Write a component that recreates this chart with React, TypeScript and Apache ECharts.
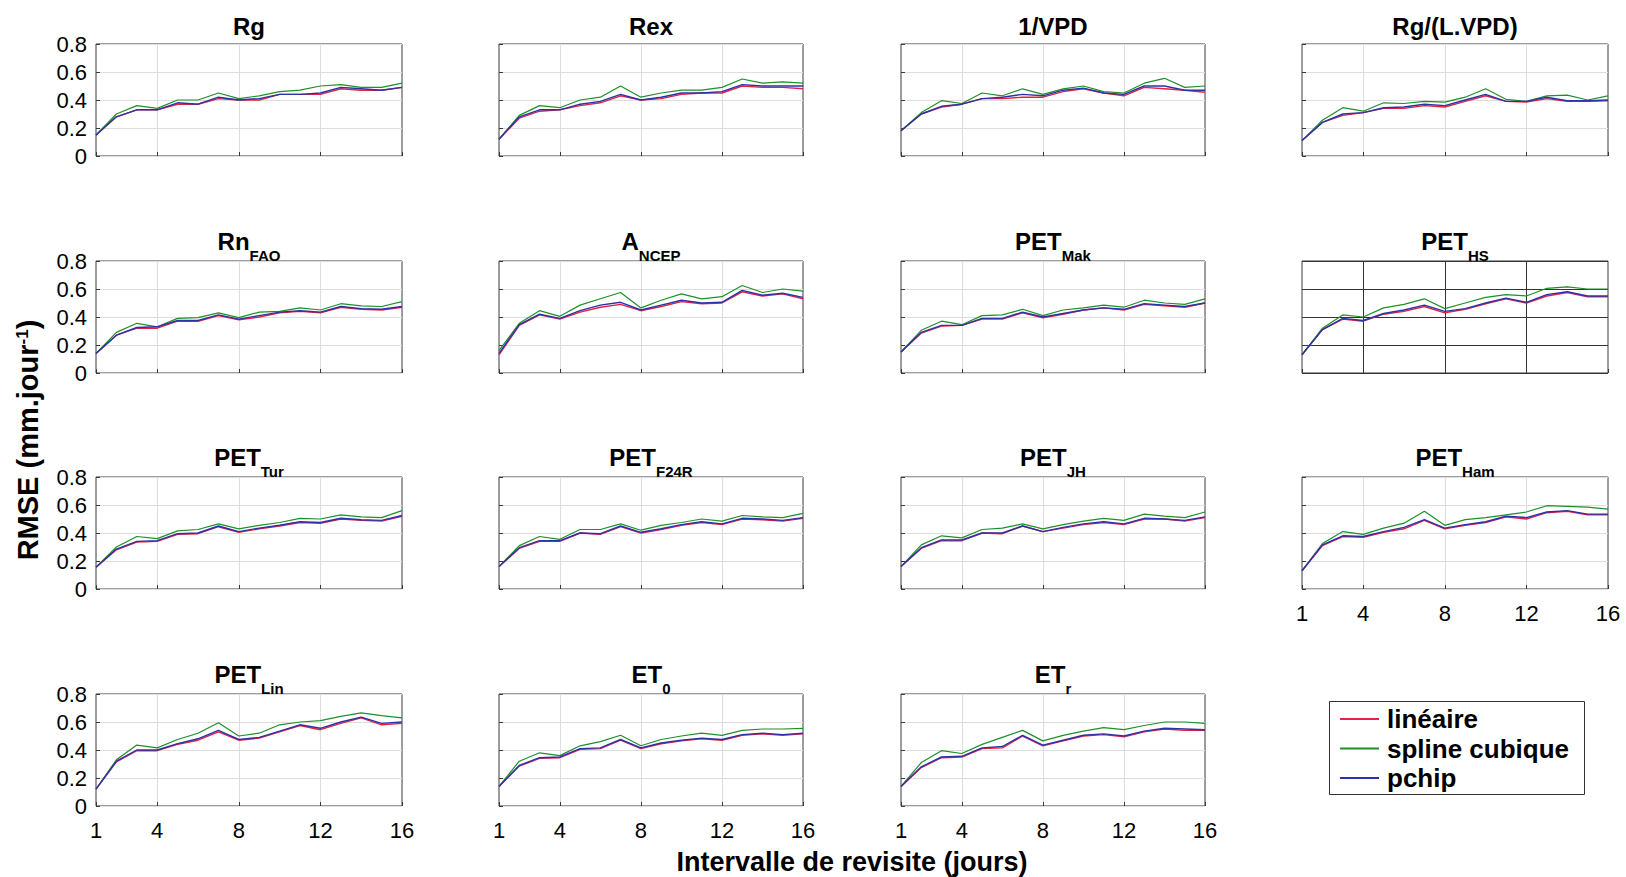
import React, { useEffect, useRef } from 'react';
import * as echarts from 'echarts';

// ---------- data ----------
const intervals = ['1', '2', '3', '4', '5', '6', '7', '8', '9', '10', '11', '12', '13', '14', '15', '16'];
const xTickLabels = ['1', '4', '8', '12', '16'];
const xGridDays = ['4', '8', '12'];
const seriesNames = ['linéaire', 'spline cubique', 'pchip'];

const rgLin = [0.15, 0.28, 0.33, 0.33, 0.37, 0.37, 0.41, 0.40, 0.40, 0.44, 0.44, 0.44, 0.48, 0.47, 0.47, 0.49];
const rgSpl = [0.15, 0.30, 0.36, 0.34, 0.40, 0.40, 0.45, 0.41, 0.43, 0.46, 0.47, 0.50, 0.51, 0.49, 0.49, 0.52];
const rgPch = [0.15, 0.28, 0.33, 0.33, 0.38, 0.37, 0.42, 0.40, 0.41, 0.44, 0.44, 0.45, 0.49, 0.48, 0.47, 0.49];

const rexLin = [0.12, 0.27, 0.32, 0.33, 0.36, 0.38, 0.43, 0.40, 0.41, 0.44, 0.45, 0.45, 0.50, 0.49, 0.49, 0.48];
const rexSpl = [0.12, 0.29, 0.36, 0.345, 0.40, 0.42, 0.50, 0.42, 0.45, 0.47, 0.47, 0.49, 0.55, 0.52, 0.53, 0.52];
const rexPch = [0.12, 0.28, 0.33, 0.33, 0.37, 0.39, 0.44, 0.40, 0.42, 0.45, 0.45, 0.46, 0.51, 0.50, 0.50, 0.50];

const vpdLin = [0.18, 0.30, 0.35, 0.37, 0.41, 0.41, 0.42, 0.42, 0.46, 0.48, 0.45, 0.43, 0.49, 0.48, 0.47, 0.455];
const vpdSpl = [0.18, 0.31, 0.395, 0.375, 0.45, 0.43, 0.48, 0.44, 0.48, 0.50, 0.46, 0.45, 0.52, 0.555, 0.49, 0.50];
const vpdPch = [0.18, 0.30, 0.355, 0.37, 0.41, 0.42, 0.44, 0.43, 0.47, 0.485, 0.45, 0.44, 0.50, 0.50, 0.47, 0.47];

const rglvLin = [0.11, 0.24, 0.29, 0.31, 0.34, 0.34, 0.36, 0.35, 0.39, 0.43, 0.39, 0.385, 0.41, 0.39, 0.39, 0.395];
const rglvSpl = [0.11, 0.255, 0.345, 0.32, 0.38, 0.375, 0.39, 0.385, 0.42, 0.48, 0.405, 0.39, 0.43, 0.435, 0.40, 0.43];
const rglvPch = [0.11, 0.24, 0.30, 0.31, 0.345, 0.35, 0.37, 0.36, 0.40, 0.44, 0.39, 0.39, 0.42, 0.395, 0.395, 0.40];

const rnLin = [0.14, 0.27, 0.32, 0.32, 0.37, 0.37, 0.41, 0.38, 0.40, 0.43, 0.44, 0.43, 0.47, 0.455, 0.45, 0.47];
const rnSpl = [0.14, 0.29, 0.355, 0.33, 0.39, 0.395, 0.43, 0.395, 0.435, 0.44, 0.465, 0.45, 0.495, 0.48, 0.475, 0.51];
const rnPch = [0.14, 0.27, 0.325, 0.33, 0.375, 0.375, 0.415, 0.385, 0.41, 0.435, 0.445, 0.435, 0.475, 0.46, 0.455, 0.475];

const ncepLin = [0.13, 0.34, 0.415, 0.385, 0.435, 0.47, 0.49, 0.445, 0.475, 0.51, 0.495, 0.50, 0.58, 0.55, 0.565, 0.53];
const ncepSpl = [0.16, 0.355, 0.445, 0.405, 0.485, 0.53, 0.575, 0.465, 0.52, 0.565, 0.53, 0.545, 0.625, 0.575, 0.60, 0.585];
const ncepPch = [0.14, 0.345, 0.42, 0.39, 0.445, 0.485, 0.505, 0.45, 0.485, 0.52, 0.50, 0.505, 0.59, 0.555, 0.57, 0.54];

const makLin = [0.15, 0.285, 0.335, 0.34, 0.385, 0.385, 0.43, 0.395, 0.42, 0.45, 0.465, 0.45, 0.49, 0.48, 0.47, 0.50];
const makSpl = [0.15, 0.305, 0.37, 0.345, 0.41, 0.415, 0.455, 0.41, 0.45, 0.465, 0.485, 0.47, 0.52, 0.50, 0.49, 0.53];
const makPch = [0.15, 0.29, 0.34, 0.34, 0.39, 0.39, 0.435, 0.40, 0.425, 0.45, 0.465, 0.455, 0.495, 0.485, 0.475, 0.50];

const hsLin = [0.13, 0.31, 0.385, 0.37, 0.42, 0.44, 0.475, 0.43, 0.455, 0.495, 0.53, 0.50, 0.55, 0.575, 0.545, 0.545];
const hsSpl = [0.13, 0.32, 0.415, 0.40, 0.465, 0.49, 0.53, 0.46, 0.50, 0.54, 0.56, 0.55, 0.605, 0.615, 0.60, 0.60];
const hsPch = [0.13, 0.31, 0.39, 0.375, 0.425, 0.45, 0.485, 0.44, 0.46, 0.50, 0.535, 0.505, 0.56, 0.58, 0.55, 0.55];

const turLin = [0.155, 0.28, 0.335, 0.34, 0.39, 0.395, 0.445, 0.405, 0.43, 0.45, 0.475, 0.47, 0.50, 0.49, 0.485, 0.52];
const turSpl = [0.155, 0.30, 0.375, 0.36, 0.415, 0.425, 0.465, 0.43, 0.455, 0.475, 0.505, 0.50, 0.53, 0.515, 0.51, 0.56];
const turPch = [0.155, 0.285, 0.34, 0.345, 0.395, 0.40, 0.45, 0.41, 0.435, 0.455, 0.48, 0.475, 0.505, 0.495, 0.49, 0.525];

const f24Lin = [0.16, 0.29, 0.34, 0.34, 0.40, 0.39, 0.445, 0.40, 0.425, 0.455, 0.475, 0.46, 0.50, 0.495, 0.485, 0.505];
const f24Spl = [0.16, 0.31, 0.375, 0.355, 0.425, 0.425, 0.465, 0.42, 0.455, 0.475, 0.50, 0.485, 0.525, 0.515, 0.51, 0.54];
const f24Pch = [0.16, 0.295, 0.345, 0.345, 0.40, 0.395, 0.45, 0.405, 0.43, 0.46, 0.48, 0.465, 0.505, 0.50, 0.49, 0.51];

const jhLin = [0.16, 0.29, 0.345, 0.345, 0.40, 0.395, 0.45, 0.41, 0.435, 0.46, 0.475, 0.46, 0.50, 0.50, 0.485, 0.51];
const jhSpl = [0.16, 0.315, 0.38, 0.365, 0.425, 0.435, 0.465, 0.43, 0.46, 0.485, 0.505, 0.49, 0.535, 0.52, 0.51, 0.55];
const jhPch = [0.16, 0.295, 0.35, 0.35, 0.40, 0.40, 0.45, 0.41, 0.44, 0.465, 0.48, 0.465, 0.505, 0.50, 0.49, 0.515];

const hamLin = [0.13, 0.31, 0.375, 0.37, 0.405, 0.43, 0.49, 0.43, 0.455, 0.475, 0.515, 0.50, 0.545, 0.555, 0.53, 0.53];
const hamSpl = [0.13, 0.325, 0.41, 0.39, 0.435, 0.47, 0.555, 0.455, 0.495, 0.51, 0.53, 0.55, 0.595, 0.59, 0.585, 0.57];
const hamPch = [0.13, 0.315, 0.38, 0.375, 0.41, 0.44, 0.495, 0.435, 0.46, 0.48, 0.52, 0.51, 0.55, 0.56, 0.535, 0.535];

const linLin = [0.12, 0.315, 0.395, 0.395, 0.44, 0.47, 0.53, 0.47, 0.485, 0.53, 0.575, 0.545, 0.59, 0.63, 0.58, 0.59];
const linSpl = [0.12, 0.33, 0.435, 0.415, 0.475, 0.52, 0.595, 0.50, 0.52, 0.58, 0.60, 0.61, 0.64, 0.665, 0.645, 0.63];
const linPch = [0.12, 0.32, 0.40, 0.40, 0.445, 0.48, 0.54, 0.475, 0.49, 0.535, 0.58, 0.555, 0.60, 0.635, 0.59, 0.60];

const et0Lin = [0.14, 0.285, 0.34, 0.345, 0.405, 0.41, 0.47, 0.41, 0.445, 0.465, 0.48, 0.47, 0.505, 0.515, 0.505, 0.515];
const et0Spl = [0.14, 0.32, 0.38, 0.36, 0.43, 0.46, 0.505, 0.43, 0.475, 0.50, 0.52, 0.505, 0.54, 0.55, 0.55, 0.555];
const et0Pch = [0.14, 0.29, 0.345, 0.35, 0.41, 0.415, 0.475, 0.415, 0.45, 0.47, 0.485, 0.475, 0.51, 0.52, 0.51, 0.52];

const etrLin = [0.14, 0.275, 0.345, 0.35, 0.41, 0.415, 0.50, 0.43, 0.465, 0.50, 0.51, 0.495, 0.53, 0.55, 0.54, 0.54];
const etrSpl = [0.14, 0.31, 0.395, 0.375, 0.44, 0.49, 0.54, 0.465, 0.505, 0.535, 0.56, 0.545, 0.575, 0.60, 0.60, 0.59];
const etrPch = [0.14, 0.28, 0.35, 0.355, 0.415, 0.425, 0.505, 0.435, 0.47, 0.505, 0.515, 0.50, 0.535, 0.555, 0.55, 0.545];

const panelTitles = ['Rg', 'Rex', '1/VPD', 'Rg/(L.VPD)', 'Rn', 'A', 'PET', 'PET', 'PET', 'PET', 'PET', 'PET', 'PET', 'ET', 'ET'];
const panelSubs = ['', '', '', '', 'FAO', 'NCEP', 'Mak', 'HS', 'Tur', 'F24R', 'JH', 'Ham', 'Lin', '0', 'r'];
const panelData = [
  [rgLin, rgSpl, rgPch], [rexLin, rexSpl, rexPch], [vpdLin, vpdSpl, vpdPch], [rglvLin, rglvSpl, rglvPch],
  [rnLin, rnSpl, rnPch], [ncepLin, ncepSpl, ncepPch], [makLin, makSpl, makPch], [hsLin, hsSpl, hsPch],
  [turLin, turSpl, turPch], [f24Lin, f24Spl, f24Pch], [jhLin, jhSpl, jhPch], [hamLin, hamSpl, hamPch],
  [linLin, linSpl, linPch], [et0Lin, et0Spl, et0Pch], [etrLin, etrSpl, etrPch],
];

// ---------- layout / style ----------
const FONT = '"Liberation Sans", Arial, Helvetica, sans-serif';
const COLORS = ['#e32245', '#1f8f2a', '#2b33a6'];
const colLeft = [96, 499, 901, 1302];
const colWidth = [306, 304, 304, 306];
const rowTop = [44, 261, 477, 694];
const PH = 112;

export default function App() {
  const ref = useRef<HTMLDivElement>(null);
  useEffect(() => {
    if (!ref.current) return;
    const chart = echarts.init(ref.current, undefined, { renderer: 'svg' });
    const grids: any[] = [];
    const xAxes: any[] = [];
    const yAxes: any[] = [];
    const series: any[] = [];
    const graphics: any[] = [];

    panelData.forEach((sets, i) => {
      const row = Math.floor(i / 4);
      const col = i % 4;
      const left = colLeft[col];
      const top = rowTop[row];
      const w = colWidth[col];
      const gridColor = i === 7 ? '#333333' : '#dedede';
      const showX = row === 3 || i === 11;
      const showY = col === 0;
      grids.push({ left, top, width: w, height: PH, show: true, borderColor: '#3a3a3a', borderWidth: 1, backgroundColor: '#ffffff' });
      xAxes.push({
        type: 'category', gridIndex: i, data: intervals, boundaryGap: false,
        axisLine: { show: false },
        axisTick: { show: true, inside: true, length: 4, interval: (_: number, v: string) => xTickLabels.includes(v), lineStyle: { color: '#3a3a3a' } },
        axisLabel: { show: showX, interval: (_: number, v: string) => xTickLabels.includes(v), margin: 13, fontSize: 22, color: '#000', fontFamily: FONT },
        splitLine: { show: true, interval: (_: number, v: string) => xGridDays.includes(v), lineStyle: { color: gridColor, width: 1 } },
      });
      yAxes.push({
        type: 'value', gridIndex: i, min: 0, max: 0.8, interval: 0.2,
        axisLine: { show: false },
        axisTick: { show: true, inside: true, length: 4, lineStyle: { color: '#3a3a3a' } },
        axisLabel: { show: showY, fontSize: 22, color: '#000', margin: 9, fontFamily: FONT, formatter: (v: number) => (v === 0 ? '0' : v.toFixed(1)) },
        splitLine: { show: true, lineStyle: { color: gridColor, width: 1 } },
      });
      sets.forEach((d, k) => {
        series.push({
          name: seriesNames[k], type: 'line', xAxisIndex: i, yAxisIndex: i, data: d,
          symbol: 'none', silent: true,
          lineStyle: { width: k === 1 ? 1.2 : 1.4, color: COLORS[k] },
          itemStyle: { color: COLORS[k] },
          emphasis: { disabled: true },
        });
      });
      const cx = left + w / 2;
      const sub = panelSubs[i];
      if (sub) {
        graphics.push({
          type: 'text', x: cx, y: top - 15, z: 10,
          style: {
            text: `{m|${panelTitles[i]}}{s|${sub}}`,
            align: 'center', verticalAlign: 'middle',
            rich: {
              m: { fontSize: 24, fontWeight: 'bold', fontFamily: FONT, fill: '#000', verticalAlign: 'top' },
              s: { fontSize: 15, fontWeight: 'bold', fontFamily: FONT, fill: '#000', verticalAlign: 'top', padding: [18, 0, 0, 0] },
            },
          },
        });
      } else {
        graphics.push({
          type: 'text', x: cx, y: top - 17.5, z: 10,
          style: { text: panelTitles[i], align: 'center', verticalAlign: 'middle', fontSize: 24, fontWeight: 'bold', fontFamily: FONT, fill: '#000' },
        });
      }
    });

    // axis names
    graphics.push({
      type: 'text', x: 852, y: 862, z: 10,
      style: { text: 'Intervalle de revisite (jours)', align: 'center', verticalAlign: 'middle', fontSize: 27, fontWeight: 'bold', fontFamily: FONT, fill: '#000' },
    });
    graphics.push({
      type: 'text', x: 28, y: 440, rotation: Math.PI / 2, z: 10,
      style: {
        text: '{a|RMSE (mm.jour}{b|-1}{a|)}', align: 'center', verticalAlign: 'middle',
        rich: {
          a: { fontSize: 29, fontWeight: 'bold', fontFamily: FONT, fill: '#000', verticalAlign: 'top' },
          b: { fontSize: 17, fontWeight: 'bold', fontFamily: FONT, fill: '#000', verticalAlign: 'top' },
        },
      },
    });
    // legend box
    graphics.push({
      type: 'rect', z: 0, shape: { x: 1329.5, y: 701.5, width: 255, height: 93 },
      style: { fill: '#ffffff', stroke: '#333333', lineWidth: 1 },
    });

    chart.setOption({
      animation: false,
      backgroundColor: '#ffffff',
      grid: grids,
      xAxis: xAxes,
      yAxis: yAxes,
      series,
      graphic: graphics,
      legend: {
        data: seriesNames, orient: 'vertical', left: 1329, top: 701,
        padding: [5, 10, 4, 11], itemGap: 3.5, itemWidth: 39, itemHeight: 2, icon: 'rect',
        selectedMode: false, z: 20,
        textStyle: { fontSize: 26, fontWeight: 'bold', fontFamily: FONT, color: '#000', lineHeight: 24, padding: [0, 0, 0, 3] },
      },
    });
    return () => chart.dispose();
  }, []);
  return <div ref={ref} style={{ position: 'absolute', left: 0, top: 0, width: 1626, height: 877, background: '#fff' }} />;
}
